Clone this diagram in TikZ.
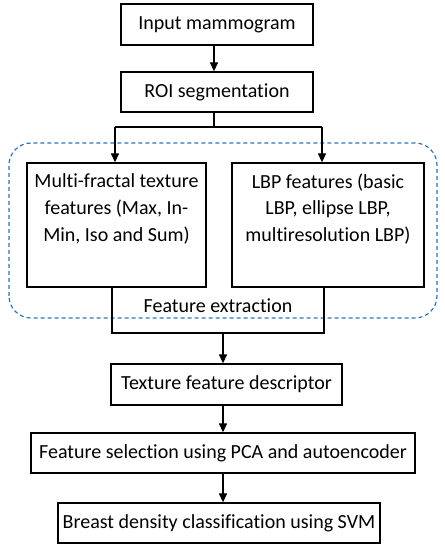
\documentclass[tikz,border=0pt]{standalone}
\usepackage{fontspec}
\setmainfont{Carlito}[Ligatures=NoCommon]
\usetikzlibrary{arrows.meta}
\begin{document}
\begin{tikzpicture}[x=1pt,y=1pt,
  box/.style={draw=black, line width=1.3pt, inner sep=0pt, align=center, font=\fontsize{20}{26.8}\selectfont},
  lbl/.style={inner sep=0pt, align=center, font=\fontsize{20}{26.8}\selectfont},
  link/.style={draw=black, line width=1.3pt},
  arr/.style={link, -{Triangle[width=8pt,length=9pt]}},
  group/.style={draw={rgb,255:red,46;green,117;blue,182}, line width=1.2pt, dash pattern=on 4pt off 3pt, rounded corners=22pt}]
\useasboundingbox (0,0) rectangle (445,550);
% dashed group
\draw[group] (9,232) rectangle (437,407);
\node[lbl] (fe) at (218,244) {Feature extraction};
% boxes
\node[box, minimum width=192, minimum height=41] (inp) at (217,525.5) {Input mammogram};
\node[box, minimum width=192, minimum height=40] (roi) at (217,458) {ROI segmentation};
\node[box, minimum width=179, minimum height=124] (L) at (116.5,325) {};
\node[lbl, anchor=north] (Lt) at ([yshift=-11]L.north) {Multi-fractal texture\\features (Max, In-\\Min, Iso and Sum)};
\node[box, minimum width=192, minimum height=124] (R) at (328,325) {};
\node[lbl, anchor=north] (Rt) at ([yshift=-11]R.north) {LBP features (basic\\LBP, ellipse LBP,\\multiresolution LBP)};
\node[box, minimum width=231, minimum height=41] (desc) at (226.5,165.5) {Texture feature descriptor};
\node[box, minimum width=384, minimum height=40] (sel) at (223,97) {Feature selection using PCA and autoencoder};
\node[box, minimum width=322, minimum height=40] (svm) at (219,27) {Breast density classification using SVM};
% connectors
\coordinate (j1) at (214,423);
\coordinate (jl) at (115,423);
\coordinate (jr) at (322,423);
\coordinate (bl) at (112,217);
\coordinate (br) at (324,217);
\coordinate (jb) at (223,217);
\draw[arr] (inp.south -| j1) -- (j1 |- roi.north);
\draw[link] (roi.south -| j1) -- (j1);
\draw[link] (jl) -- (jr);
\draw[arr] (jl) -- (jl |- L.north);
\draw[arr] (jr) -- (jr |- R.north);
\draw[link] (bl |- L.south) -- (bl) -- (br) -- (br |- R.south);
\draw[arr] (jb) -- (jb |- desc.north);
\draw[arr] (desc.south -| jb) -- (jb |- sel.north);
\draw[arr] (sel.south -| jb) -- (jb |- svm.north);
\end{tikzpicture}
\end{document}
